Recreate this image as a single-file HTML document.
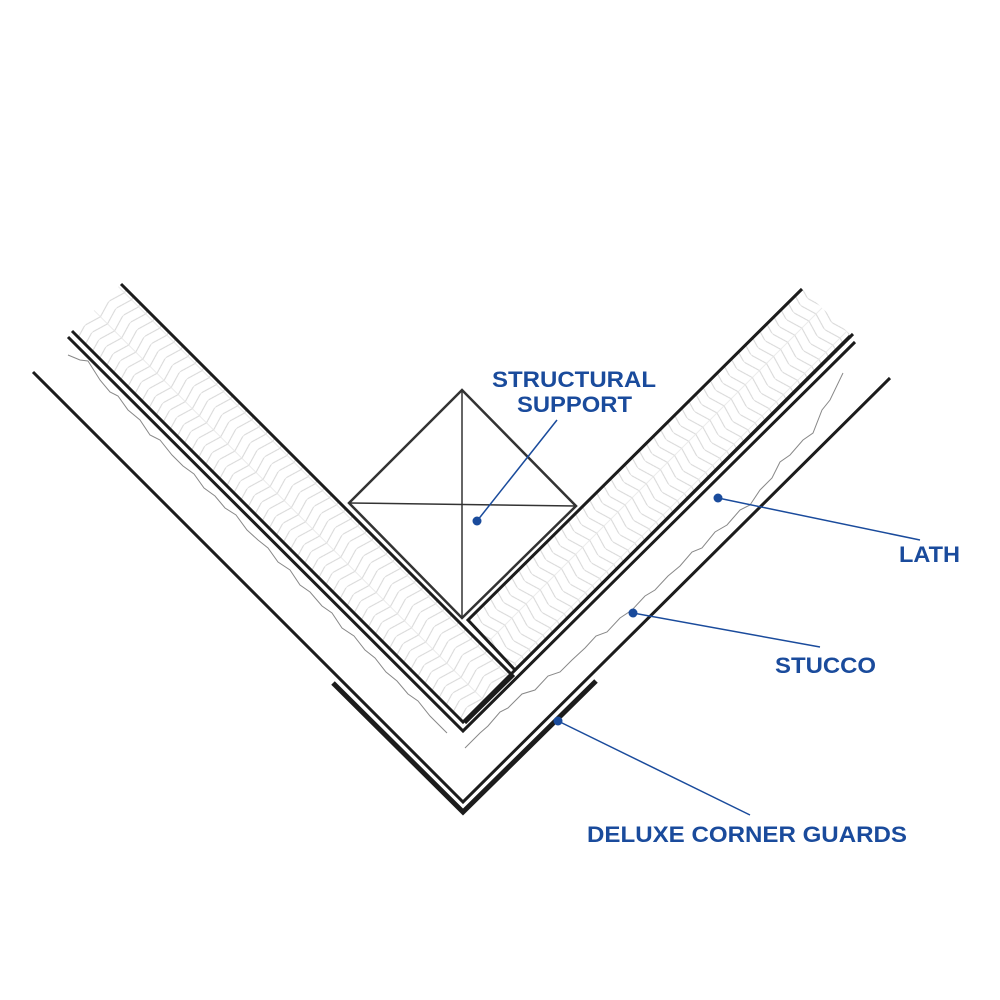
<!DOCTYPE html>
<html><head><style>
html,body{margin:0;padding:0;background:#fff;width:1000px;height:1000px;overflow:hidden}
svg{display:block}
text{font-family:"Liberation Sans",Arial,sans-serif;font-weight:bold;fill:#1a4b9c;font-size:22px}
</style></head><body>
<svg width="1000" height="1000" viewBox="0 0 1000 1000">
<defs>
<pattern id="hbL" width="10" height="34" patternUnits="userSpaceOnUse" patternTransform="rotate(45)">
<line x1="0" y1="0" x2="5" y2="17" stroke="#d6d6d6" stroke-width="1"/>
<line x1="5" y1="17" x2="0" y2="34" stroke="#d6d6d6" stroke-width="1"/>
<line x1="0" y1="17" x2="10" y2="17" stroke="#e6e6e6" stroke-width="0.8"/>
</pattern>
<pattern id="hbR" width="10" height="34" patternUnits="userSpaceOnUse" patternTransform="rotate(-45)">
<line x1="0" y1="0" x2="5" y2="17" stroke="#d6d6d6" stroke-width="1"/>
<line x1="5" y1="17" x2="0" y2="34" stroke="#d6d6d6" stroke-width="1"/>
<line x1="0" y1="17" x2="10" y2="17" stroke="#e6e6e6" stroke-width="0.8"/>
</pattern>
</defs>
<polygon points="121,284 513,676 463,724 72,332" fill="url(#hbL)"/>
<polygon points="468,620 802,289 853,337 515,670" fill="url(#hbR)"/>
<polyline points="121,284 513,676 465,723" fill="none" stroke="#1c1c1c" stroke-width="3"/>
<polyline points="802,289 468,620 515,670 853,334" fill="none" stroke="#1c1c1c" stroke-width="3"/>
<polyline points="72,331 463,722 850,336" fill="none" stroke="#1c1c1c" stroke-width="3"/>
<polyline points="68,337 463,731 855,342" fill="none" stroke="#1c1c1c" stroke-width="3"/>
<polyline points="68,355 80,360 88,361 100,380 110,392 118,396 128,410 140,420 150,435 160,440 172,455 183,466 194,474 204,488 215,496 225,508 236,515 247,530 258,540 268,548 278,562 290,570 300,585 310,592 322,606 332,613 342,628 354,636 365,650 375,658 386,672 397,681 408,694 418,701 430,716 447,733" fill="none" stroke="#888" stroke-width="1"/>
<polyline points="465,748 480,733 488,726 500,712 508,708 522,694 535,690 548,676 560,672 572,660 585,648 596,636 607,632 620,618 632,610 645,596 655,590 668,576 680,566 692,552 702,548 715,532 727,525 740,510 750,505 760,490 772,478 780,462 790,455 803,440 813,433 822,410 830,400 843,373" fill="none" stroke="#888" stroke-width="1"/>
<polyline points="33,372 463,802 890,378" fill="none" stroke="#1c1c1c" stroke-width="3"/>
<polyline points="333,683 463,812 596,681" fill="none" stroke="#1c1c1c" stroke-width="5"/>
<polygon points="462,390 576,506 462,618 349,503" fill="none" stroke="#333" stroke-width="2.5"/>
<line x1="462" y1="390" x2="462" y2="618" stroke="#333" stroke-width="1.5"/>
<line x1="349" y1="503" x2="576" y2="506" stroke="#333" stroke-width="1.5"/>
<g stroke="#1a4b9c" stroke-width="1.5">
<line x1="477" y1="521" x2="557" y2="420"/>
<line x1="718" y1="498" x2="920" y2="540"/>
<line x1="633" y1="613" x2="820" y2="647"/>
<line x1="558" y1="721" x2="750" y2="815"/>
</g>
<g fill="#1a4b9c">
<circle cx="477" cy="521" r="4.5"/>
<circle cx="718" cy="498" r="4.5"/>
<circle cx="633" cy="613" r="4.5"/>
<circle cx="558" cy="721" r="4.5"/>
</g>
<text x="492" y="387" textLength="164" lengthAdjust="spacingAndGlyphs">STRUCTURAL</text>
<text x="517" y="412" textLength="115" lengthAdjust="spacingAndGlyphs">SUPPORT</text>
<text x="899" y="562" textLength="61" lengthAdjust="spacingAndGlyphs">LATH</text>
<text x="775" y="673" textLength="101" lengthAdjust="spacingAndGlyphs">STUCCO</text>
<text x="587" y="842" textLength="320" lengthAdjust="spacingAndGlyphs">DELUXE CORNER GUARDS</text>
</svg>
</body></html>
